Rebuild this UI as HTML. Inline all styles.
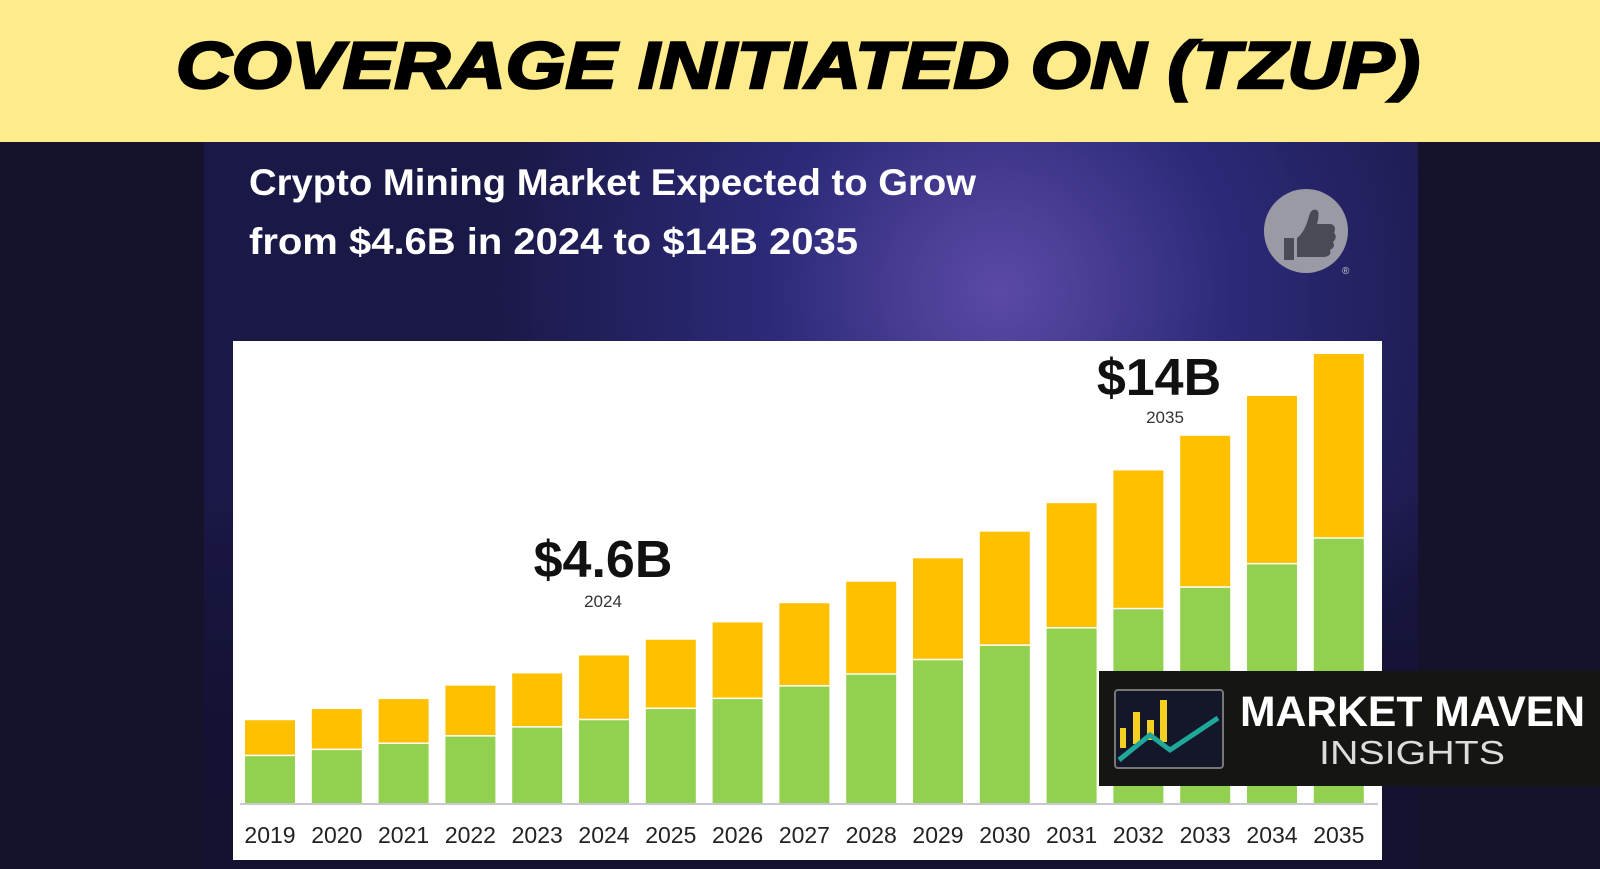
<!DOCTYPE html>
<html><head><meta charset="utf-8"><style>
html,body{margin:0;padding:0;background:#14122a;}
svg{display:block;}
</style></head><body>
<svg id="chart" width="1600" height="869" viewBox="0 0 1600 869" xmlns="http://www.w3.org/2000/svg" font-family="Liberation Sans, sans-serif">
<defs>
<radialGradient id="glow" cx="1000" cy="290" r="520" gradientUnits="userSpaceOnUse">
<stop offset="0" stop-color="#5b4aa6"/><stop offset="0.45" stop-color="#2c2a78"/><stop offset="1" stop-color="#1a1846"/>
</radialGradient>
<linearGradient id="fade" x1="0" y1="0" x2="0" y2="1">
<stop offset="0" stop-color="#000" stop-opacity="0"/><stop offset="1" stop-color="#0f0e22" stop-opacity="0.6"/>
</linearGradient>
</defs>
<rect x="0" y="0" width="1600" height="869" fill="#15132b"/>
<rect x="204" y="141" width="1214" height="728" fill="url(#glow)"/>
<rect x="204" y="500" width="1214" height="369" fill="url(#fade)"/>
<rect x="0" y="0" width="1600" height="142" fill="#fdeb8c"/>
<text x="176" y="88" font-size="66" font-weight="bold" font-style="italic" textLength="1244" lengthAdjust="spacingAndGlyphs" fill="#000" stroke="#000" stroke-width="2.5">COVERAGE INITIATED ON (TZUP)</text>
<text fill="#fff" font-weight="bold" font-size="37">
<tspan x="249" y="195" textLength="727" lengthAdjust="spacingAndGlyphs">Crypto Mining Market Expected to Grow</tspan>
<tspan x="249" y="254" textLength="609" lengthAdjust="spacingAndGlyphs">from $4.6B in 2024 to $14B 2035</tspan>
</text>
<g>
<circle cx="1306" cy="231" r="42" fill="#9a9aa4"/>
<path d="M1284 238 h10 v22 h-10z M1297 238 q8-6 12-22 q2-8 8-6 q3 3 0 14 h14 q6 2 3 9 q4 4-1 9 q3 5-3 8 q2 6-6 7 h-27z" fill="#4a4a55"/>
<text x="1342" y="274" font-size="10" fill="#ccc">®</text>
</g>
<rect x="233" y="341" width="1149" height="519" fill="#fff"/>
<g id="bars"></g>
<line x1="240" y1="804" x2="1378" y2="804" stroke="#c8c8d0" stroke-width="2"/>
<g id="labels" font-size="23" fill="#222" text-anchor="middle"></g>
<text x="603" y="577" font-size="52" font-weight="bold" text-anchor="middle" fill="#111">$4.6B</text>
<text x="603" y="607" font-size="17" text-anchor="middle" fill="#333">2024</text>
<text x="1159" y="395" font-size="52" font-weight="bold" text-anchor="middle" fill="#111">$14B</text>
<text x="1165" y="423" font-size="17" text-anchor="middle" fill="#333">2035</text>
<g>
<rect x="1099" y="671" width="501" height="115" fill="#151511"/>
<rect x="1115" y="690" width="108" height="78" rx="3" fill="#14162a" stroke="#777" stroke-width="2"/>
<rect x="1120" y="728" width="6" height="20" fill="#f5d020"/>
<rect x="1133" y="712" width="7" height="32" fill="#f5d020"/>
<rect x="1147" y="720" width="7" height="20" fill="#f5d020"/>
<rect x="1160" y="700" width="7" height="42" fill="#f5d020"/>
<polyline points="1119,760 1150,735 1170,750 1218,718" fill="none" stroke="#1fa79a" stroke-width="5"/>
<text x="1240" y="726" font-size="43" font-weight="bold" fill="#fff" textLength="345" lengthAdjust="spacingAndGlyphs">MARKET MAVEN</text>
<text x="1319" y="764" font-size="33" fill="#ddd" textLength="186" lengthAdjust="spacingAndGlyphs">INSIGHTS</text>
</g>
</svg>
<script>
const years = ['2019','2020','2021','2022','2023','2024','2025','2026','2027','2028','2029','2030','2031','2032','2033','2034','2035'];
const greenValues = [1.46,1.65,1.84,2.07,2.35,2.58,2.93,3.24,3.63,4.0,4.45,4.9,5.44,6.04,6.71,7.44,8.24];
const yellowValues = [1.12,1.28,1.40,1.59,1.69,2.02,2.16,2.39,2.60,2.90,3.18,3.56,3.91,4.33,4.74,5.25,5.76];
const NS='http://www.w3.org/2000/svg';
const baseY=803, pxPerB=32.07, x0=245, step=66.8, bw=50;
function xPos(i){return x0+i*step;}
function yPos(v){return baseY-v*pxPerB;}
const gB=document.getElementById('bars'), gL=document.getElementById('labels');
years.forEach((yr,i)=>{
  const g=greenValues[i], t=g+yellowValues[i];
  const r1=document.createElementNS(NS,'rect');
  
  
  r1.setAttribute('x',xPos(i));r1.setAttribute('width',bw);
  r1.setAttribute('y',yPos(g));r1.setAttribute('height',baseY-yPos(g));
  r1.setAttribute('fill','#92d050');gB.appendChild(r1);
  const r2=document.createElementNS(NS,'rect');
  
  
  r2.setAttribute('x',xPos(i));r2.setAttribute('width',bw);
  r2.setAttribute('y',yPos(t));r2.setAttribute('height',yPos(g)-yPos(t)-1.5);
  r2.setAttribute('fill','#ffc000');gB.appendChild(r2);
  const tx=document.createElementNS(NS,'text');
  
  
  tx.setAttribute('x',xPos(i)+bw/2);tx.setAttribute('y',843);
  tx.textContent=yr;gL.appendChild(tx);
});
</script>
</body></html>
